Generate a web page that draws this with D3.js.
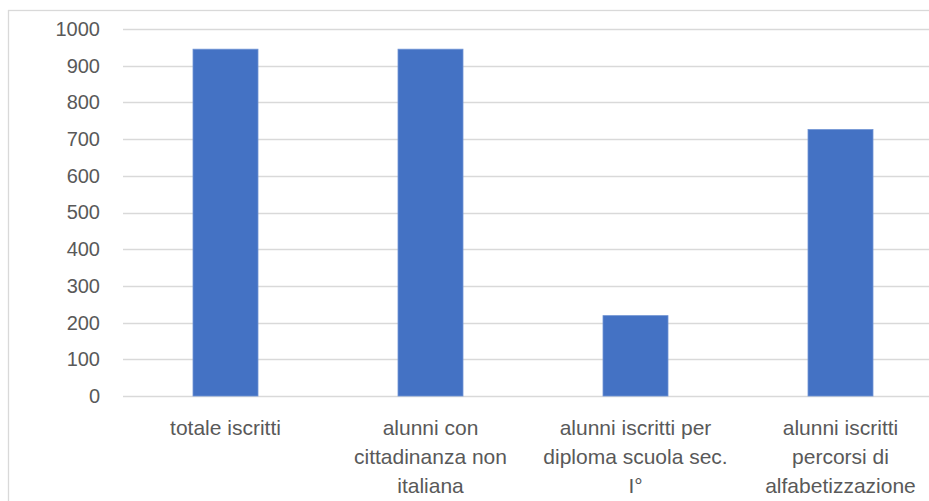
<!DOCTYPE html>
<html>
<head>
<meta charset="utf-8">
<script src="https://cdn.jsdelivr.net/npm/d3@7/dist/d3.min.js"></script>
<style>
  html, body { margin: 0; padding: 0; background: #fff; }
  svg { display: block; }
  text { font-family: "Liberation Sans", Arial, sans-serif; fill: #595959; }
</style>
</head>
<body>
<svg id="chart" width="929" height="501"></svg>
<script>
// Iscritti per tipologia
const categories = [
  "totale iscritti",
  "alunni con cittadinanza non italiana",
  "alunni iscritti per diploma scuola sec. I°",
  "alunni iscritti percorsi di alfabetizzazione"
];
const categoryLines = [
  ["totale iscritti"],
  ["alunni con", "cittadinanza non", "italiana"],
  ["alunni iscritti per", "diploma scuola sec.", "I°"],
  ["alunni iscritti", "percorsi di", "alfabetizzazione"]
];
const values = [945, 945, 219, 726];
const yTicks = [0, 100, 200, 300, 400, 500, 600, 700, 800, 900, 1000];

const svg = d3.select("#chart");

// outer chart frame
svg.append("rect")
  .attr("x", 8.5).attr("y", 10.5)
  .attr("width", 940).attr("height", 520)
  .attr("fill", "none").attr("stroke", "#d9d9d9").attr("stroke-width", 1.3);

const plot = { left: 123, right: 943, top: 29, bottom: 396 };

const x = d3.scaleBand()
  .domain(categories)
  .range([plot.left, plot.right])
  .paddingInner(0.683)
  .paddingOuter(0.3415);

const y = d3.scaleLinear().domain([0, 1000]).range([plot.bottom, plot.top]);

// value axis labels
const yAxis = d3.axisLeft(y).tickValues(yTicks).tickFormat(d3.format("d")).tickSize(0).tickPadding(23);
const gy = svg.append("g").attr("transform", `translate(${plot.left},0)`).call(yAxis);
gy.select(".domain").remove();
gy.selectAll(".tick text").attr("font-size", 20).style("fill", "#595959");

// horizontal gridlines
svg.append("g").selectAll("line").data(yTicks).join("line")
  .attr("x1", plot.left).attr("x2", plot.right)
  .attr("y1", d => Math.round(y(d)) + 0.5).attr("y2", d => Math.round(y(d)) + 0.5)
  .attr("stroke", "#d9d9d9").attr("stroke-width", 1.5);

// bars
svg.append("g").selectAll("rect").data(values).join("rect")
  .attr("x", (d, i) => x(categories[i]))
  .attr("width", x.bandwidth())
  .attr("y", d => y(d))
  .attr("height", d => y(0) - y(d))
  .attr("fill", "#4472c4")
  .attr("stroke", "#6f93d4").attr("stroke-width", 0.8);

// category axis (labels drawn as wrapped lines)
const xAxis = d3.axisBottom(x).tickSize(0).tickFormat("");
const gx = svg.append("g").attr("transform", `translate(0,${plot.bottom})`).call(xAxis);
gx.select(".domain").remove();

const lab = svg.append("g");
categories.forEach((c, i) => {
  const cx = x(c) + x.bandwidth() / 2;
  const t = lab.append("text")
    .attr("text-anchor", "middle")
    .attr("font-size", 21);
  categoryLines[i].forEach((ln, j) => {
    t.append("tspan").attr("x", cx).attr("y", 435 + j * 29).text(ln);
  });
});
</script>
</body>
</html>
